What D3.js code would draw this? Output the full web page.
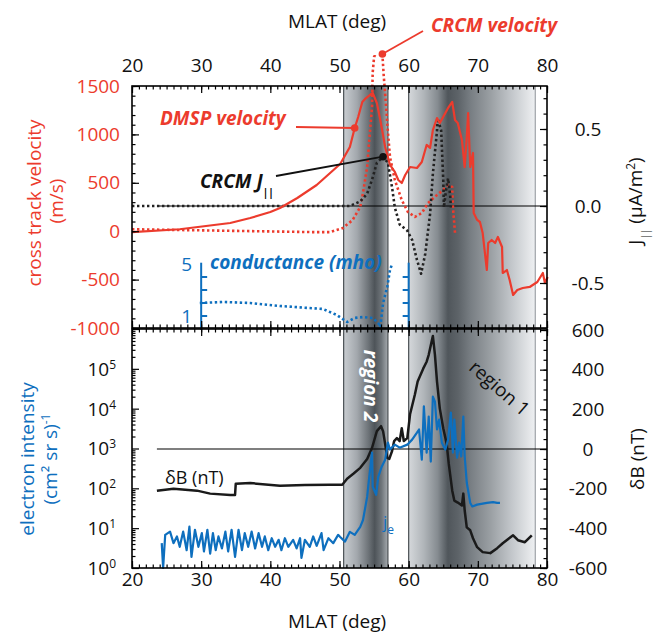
<!DOCTYPE html>
<html>
<head>
<meta charset="utf-8">
<script src="https://cdn.jsdelivr.net/npm/d3@7"></script>
<style>
  body { margin: 0; background: #fff; }
  svg text { font-family: "Open Sans", sans-serif; }
</style>
</head>
<body>
<svg id="chart" width="659" height="640"></svg>
<script>
// DMSP cross track velocity (m/s)
var dmspLat = [20.0, 26.9, 34.2, 37.1, 40.0, 41.4, 43.9, 46.7, 50.1, 51.5, 52.2, 52.7, 53.3, 53.7, 54.4, 54.8, 55.4, 55.9, 56.6, 57.3, 58.0, 58.5, 59.0, 59.5, 60.2, 61.2, 61.9, 62.6, 63.1, 63.5, 64.1, 64.5, 65.3, 65.7, 66.3, 66.7, 67.1, 67.7, 68.1, 68.4, 68.6, 68.9, 69.3, 69.4, 69.9, 70.3, 70.7, 71.3, 71.5, 72.0, 72.5, 72.9, 73.5, 73.6, 74.2, 74.6, 75.1, 75.7, 76.5, 77.5, 78.6, 79.4, 79.7, 80.1];
var dmspVel = [-10, 20, 85, 136, 198, 240, 343, 477, 694, 870, 1066, 1180, 1335, 1366, 1407, 1428, 1324, 1149, 870, 684, 612, 529, 498, 581, 663, 653, 715, 891, 860, 1045, 1169, 1118, 1221, 1273, 1335, 1149, 1118, 942, 663, 973, 1221, 663, 808, 188, 116, 95, -19, -401, -122, -91, -122, -60, -163, -432, -401, -504, -659, -607, -587, -576, -525, -432, -535, -473];

// CRCM velocity (m/s)
var crcmLat = [20.0, 46.7, 48.6, 50.5, 51.9, 53.0, 53.4, 54.0, 54.3, 54.7, 54.8, 55.0, 55.6, 56.2, 56.4, 56.6, 56.9, 57.3, 58.0, 59.0, 59.9, 60.9, 61.9, 62.8, 64.1, 65.0, 65.7, 66.3, 66.4, 66.7];
var crcmVel = [20, -10, -10, 33, 116, 250, 395, 663, 942, 1283, 1640, 1800, 1880, 1830, 1600, 1420, 1118, 767, 529, 322, 198, 147, 188, 291, 374, 426, 477, 457, 250, -19];

// CRCM J|| (uA/m^2)
var jLat = [20.0, 48.6, 51.5, 53.0, 54.0, 54.7, 55.4, 56.3, 57.0, 57.6, 58.0, 58.7, 59.8, 60.5, 61.2, 61.8, 62.4, 63.1, 63.5, 64.1, 64.2, 64.7, 65.0, 65.1, 65.4, 65.7, 66.0, 66.1];
var jVal = [0, 0, 0, 0.03, 0.08, 0.17, 0.28, 0.32, 0.28, 0.12, -0.01, -0.12, -0.16, -0.22, -0.35, -0.44, -0.31, -0.05, 0.21, 0.49, 0.57, 0.49, 0.17, -0.01, 0.10, 0.18, 0.07, -0.01];

// conductance (mho)
var condLat = [29.8, 33.2, 37.1, 41.4, 47.6, 49.6, 51.1, 52.2, 53.4, 54.8, 55.6, 55.9, 56.3, 56.9, 57.3, 57.6];
var condVal = [2.0, 2.08, 2.0, 1.77, 1.54, 1.08, 0.54, 0.85, 0.92, 0.85, 0.46, 0.15, 2.0, 3.23, 4.54, 5.0];

// electron intensity (cm^2 sr s)^-1
var eLat = [24.3, 24.5, 24.8, 25.5, 26.0, 26.5, 26.9, 27.4, 27.9, 28.3, 28.6, 29.1, 29.6, 30.1, 30.4, 30.9, 31.3, 31.7, 32.1, 32.5, 33.0, 33.5, 33.9, 34.4, 34.9, 35.4, 35.9, 36.3, 36.8, 37.3, 37.8, 38.3, 38.8, 39.2, 39.7, 40.2, 40.7, 41.2, 41.6, 42.1, 42.6, 43.3, 43.8, 44.3, 44.5, 45.0, 45.7, 46.2, 46.7, 47.4, 47.7, 48.4, 49.1, 49.8, 50.1, 50.8, 51.5, 52.2, 53.0, 53.4, 54.0, 54.3, 54.7, 54.8, 55.3, 55.6, 56.1, 56.6, 57.0, 57.3, 58.0, 58.7, 59.8, 60.5, 61.2, 61.5, 61.9, 62.2, 62.6, 62.9, 63.2, 63.5, 63.8, 64.1, 64.4, 64.8, 65.3, 65.7, 66.1, 66.4, 66.6, 67.0, 67.3, 67.6, 67.9, 68.1, 68.4, 68.9, 69.2, 69.9, 71.3, 72.2, 72.8, 73.2];
var eFlux = [4.2, 1.0, 6.8, 8.2, 4.2, 6.2, 3.4, 8.2, 2.8, 11, 1.9, 9.1, 3.4, 7.5, 2.6, 9.1, 2.3, 7.5, 2.8, 6.2, 3.1, 8.2, 2.6, 9.1, 1.9, 9.1, 2.8, 7.5, 3.4, 8.2, 3.1, 7.5, 3.4, 6.2, 2.8, 5.6, 3.4, 5.1, 2.8, 5.6, 3.4, 5.1, 3.1, 5.6, 1.8, 5.1, 3.4, 6.2, 3.6, 7.5, 2.8, 5.6, 4.2, 6.8, 6.0, 4.6, 8.1, 6.8, 10.8, 16, 61, 195, 790, 110, 69, 195, 350, 525, 1400, 940, 1250, 1050, 1250, 1670, 2500, 3000, 525, 11400, 790, 6300, 470, 20000, 15000, 3000, 5300, 1400, 940, 1670, 8000, 790, 5300, 590, 1400, 630, 6300, 630, 138, 43, 35, 39, 43, 45, 43, 43];

// deltaB (nT)
var dbLat = [23.6, 26.0, 29.4, 31.3, 34.2, 34.9, 35.0, 37.1, 41.4, 45.0, 48.6, 50.4, 51.1, 52.0, 53.0, 54.0, 54.7, 55.4, 56.0, 56.3, 56.6, 56.9, 57.2, 57.6, 57.9, 58.3, 58.7, 59.0, 59.3, 59.8, 60.2, 60.9, 61.3, 62.1, 62.6, 62.9, 63.4, 63.5, 63.8, 64.1, 64.5, 65.0, 65.5, 65.8, 66.3, 66.6, 67.1, 67.7, 67.9, 68.1, 68.4, 68.9, 69.3, 69.9, 70.7, 71.8, 72.8, 73.6, 75.1, 75.8, 76.8, 77.8];
var dbVal = [-210, -200, -210, -225, -232, -232, -175, -172, -185, -182, -180, -180, -150, -125, -95, -50, 5, 90, 115, 90, 25, -45, -50, -10, 40, 55, 40, 105, 40, 55, 175, 275, 340, 405, 440, 475, 555, 570, 475, 340, 205, 105, 25, -75, -210, -260, -270, -285, -225, -310, -395, -410, -450, -495, -520, -525, -500, -475, -435, -460, -470, -435];

// shaded regions (MLAT)
var region2 = [50.6, 57.0];
var region1 = [60.0, 78.3];

var xTicks = [20, 30, 40, 50, 60, 70, 80];
var velTicks = [-1000, -500, 0, 500, 1000, 1500];
var jTicks = [-0.5, 0, 0.5];
var fluxTicks = [1, 10, 100, 1000, 10000, 100000];
var dbTicks = [-600, -400, -200, 0, 200, 400, 600];

var red = "#ec3b2d";
var blue = "#0e6fbe";
var tickFont = 19;

var svg = d3.select("#chart");

//Scales
var x = d3.scaleLinear().domain([20, 80]).range([132, 547]);
var yVel = d3.scaleLinear().domain([-1000, 1500]).range([328, 86]);
var yJ = d3.scaleLinear().domain([-0.5, 0.5]).range([283, 129]);
var yC = d3.scaleLinear().domain([1, 5]).range([316, 264]);
var yFlux = d3.scaleLog().domain([1, 1e6]).range([568, 329]);
var yDB = d3.scaleLinear().domain([-600, 600]).range([568, 330]);

var top0 = 86, bot1 = 568;

//Gradients for the shaded regions
var defs = svg.append("defs");
function grad(id, stops) {
    var g = defs.append("linearGradient").attr("id", id)
        .attr("x1", 0).attr("x2", 1).attr("y1", 0).attr("y2", 0);
    stops.forEach(function(s) {
        g.append("stop").attr("offset", s[0]).attr("stop-color", s[1]);
    });
}
grad("g2", [[0, "#c9cdd1"], [0.3, "#a3a8ad"], [0.55, "#6f757a"], [0.7, "#4e5459"], [0.85, "#6d7378"], [1, "#a5aaae"]]);
grad("g1", [[0, "#d5d8db"], [0.12, "#b0b5b9"], [0.23, "#858b90"], [0.31, "#50565b"], [0.39, "#5d6368"], [0.49, "#787e83"], [0.65, "#9ba0a4"], [0.81, "#c2c6ca"], [0.97, "#e8eaec"], [1, "#eef0f2"]]);

//The model velocity is cut just above the top axis
defs.append("clipPath").attr("id", "crcmClip")
    .append("rect").attr("x", 0).attr("y", 55).attr("width", 659).attr("height", 585);

svg.append("rect").attr("x", x(region2[0])).attr("y", top0)
    .attr("width", x(region2[1]) - x(region2[0])).attr("height", bot1 - top0)
    .attr("fill", "url(#g2)");
svg.append("rect").attr("x", x(region1[0])).attr("y", top0)
    .attr("width", x(region1[1]) - x(region1[0])).attr("height", bot1 - top0)
    .attr("fill", "url(#g1)");

//Region boundary lines
[region2[0], region2[1], region1[0]].forEach(function(v) {
    svg.append("line").attr("x1", x(v)).attr("x2", x(v)).attr("y1", top0).attr("y2", bot1)
        .attr("stroke", "#4a4f53").attr("stroke-width", 1.2);
});
svg.append("line").attr("x1", x(region1[1])).attr("x2", x(region1[1])).attr("y1", top0).attr("y2", bot1)
    .attr("stroke", "#8c9297").attr("stroke-width", 1);

//Zero lines
svg.append("line").attr("x1", x(23.6)).attr("x2", x(80)).attr("y1", yJ(0)).attr("y2", yJ(0))
    .attr("stroke", "#000").attr("stroke-width", 1.2);
svg.append("line").attr("x1", x(23.6)).attr("x2", x(80)).attr("y1", yDB(0)).attr("y2", yDB(0))
    .attr("stroke", "#000").attr("stroke-width", 1.2);

//Conductance inset axes
function insetAxis(xv, dir) {
    svg.append("line").attr("x1", x(xv)).attr("x2", x(xv)).attr("y1", yC(5.1)).attr("y2", 330)
        .attr("stroke", blue).attr("stroke-width", 2);
    [1, 2, 3, 4].forEach(function(v) {
        svg.append("line").attr("x1", x(xv)).attr("x2", x(xv) + dir * 6)
            .attr("y1", yC(v)).attr("y2", yC(v))
            .attr("stroke", blue).attr("stroke-width", 2);
    });
}
insetAxis(30, 1);
insetAxis(60, -1);
[5, 1].forEach(function(v) {
    svg.append("text").attr("x", x(30) - 9).attr("y", yC(v)).attr("dy", "0.36em")
        .attr("text-anchor", "end").attr("font-size", tickFont).attr("fill", blue).text(v);
});

//Line helper
function path(lat, val, ys, color, width, dash) {
    var line = d3.line().x(function(d) { return x(d[0]); }).y(function(d) { return ys(d[1]); });
    var p = svg.append("path").datum(d3.zip(lat, val))
        .attr("d", line).attr("fill", "none")
        .attr("stroke", color).attr("stroke-width", width)
        .attr("stroke-linejoin", "round");
    if (dash) p.attr("stroke-dasharray", dash);
    return p;
}

path(condLat, condVal, yC, blue, 2.6, "2.4,2.6");
path(crcmLat, crcmVel, yVel, red, 2.6, "2.4,2.6").attr("clip-path", "url(#crcmClip)");
path(jLat, jVal, yJ, "#222", 2.6, "2.4,2.6");
path(dmspLat, dmspVel, yVel, red, 2.2);
path(dbLat, dbVal, yDB, "#1a1a1a", 2.5);
path(eLat, eFlux, yFlux, blue, 2.2);

//Axes
function styleAxis(g, color) {
    g.select(".domain").remove();
    g.selectAll(".tick line").attr("stroke", "#000").attr("stroke-width", 1.2);
    g.selectAll(".tick text").attr("font-size", tickFont).attr("fill", color || "#111")
        .attr("font-family", "Open Sans, sans-serif");
}
function addAxis(axis, tx, ty, color) {
    var g = svg.append("g").attr("transform", "translate(" + tx + "," + ty + ")").call(axis);
    styleAxis(g, color);
    return g;
}
var xMinor = d3.range(20, 81, 1);

//Top MLAT axis
addAxis(d3.axisTop(x).tickValues(xMinor).tickSize(-3.5).tickFormat(""), 0, 86);
addAxis(d3.axisTop(x).tickValues(xTicks).tickSize(-7).tickPadding(14).tickFormat(d3.format("d")), 0, 86);
//Shared border between panels
addAxis(d3.axisBottom(x).tickValues(xMinor).tickSize(-3.5).tickFormat(""), 0, 328);
addAxis(d3.axisBottom(x).tickValues(xTicks).tickSize(-7).tickFormat(""), 0, 328);
addAxis(d3.axisTop(x).tickValues(xMinor).tickSize(-3.5).tickFormat(""), 0, 329);
addAxis(d3.axisTop(x).tickValues(xTicks).tickSize(-7).tickFormat(""), 0, 329);
//Bottom MLAT axis
addAxis(d3.axisBottom(x).tickValues(xMinor).tickSize(-3.5).tickFormat(""), 0, 568);
addAxis(d3.axisBottom(x).tickValues(xTicks).tickSize(-7).tickPadding(4).tickFormat(d3.format("d")), 0, 568);

//Velocity axis
addAxis(d3.axisLeft(yVel).tickValues(d3.range(-1000, 1501, 100)).tickSize(-3.5).tickFormat(""), 132, 0);
addAxis(d3.axisLeft(yVel).tickValues(velTicks).tickSize(-7).tickPadding(12)
    .tickFormat(function(d) { return String(d); }), 132, 0, red);

//J axis
var jMinor = d3.range(-7, 8).map(function(k) { return k / 10; });
addAxis(d3.axisRight(yJ).tickValues(jMinor).tickSize(-3.5).tickFormat(""), 547, 0);
var gJ = addAxis(d3.axisRight(yJ).tickValues(jTicks).tickSize(-7)
    .tickFormat(function(d) { return d.toFixed(1); }), 547, 0);
gJ.selectAll(".tick text").attr("x", 41).attr("text-anchor", "middle");

//Electron intensity axis (log)
var fluxMinor = [];
for (var e = 0; e < 6; e++) for (var m = 2; m < 10; m++) fluxMinor.push(m * Math.pow(10, e));
addAxis(d3.axisLeft(yFlux).tickValues(fluxMinor).tickSize(-3.5).tickFormat(""), 132, 0);
addAxis(d3.axisLeft(yFlux).tickValues(fluxTicks.concat([1e6])).tickSize(-7).tickFormat(""), 132, 0);
fluxTicks.forEach(function(v) {
    var t = svg.append("text").attr("x", 116).attr("y", yFlux(v)).attr("dy", "0.36em")
        .attr("text-anchor", "end").attr("font-size", tickFont).attr("fill", "#111");
    t.append("tspan").text("10");
    t.append("tspan").attr("dy", -7).attr("font-size", 12).text(Math.round(Math.log10(v)));
});

//deltaB axis
addAxis(d3.axisRight(yDB).tickValues(d3.range(-600, 601, 50)).tickSize(-3.5).tickFormat(""), 547, 0);
var gB = addAxis(d3.axisRight(yDB).tickValues(dbTicks).tickSize(-7)
    .tickFormat(function(d) { return String(d); }), 547, 0);
gB.selectAll(".tick text").attr("x", 41).attr("text-anchor", "middle");

//Frames
svg.append("rect").attr("x", 132).attr("y", 86).attr("width", 415).attr("height", 242)
    .attr("fill", "none").attr("stroke", "#000").attr("stroke-width", 1.6);
svg.append("rect").attr("x", 132).attr("y", 329).attr("width", 415).attr("height", 239)
    .attr("fill", "none").attr("stroke", "#000").attr("stroke-width", 1.6);

//Axis titles
function label(txt, tx, ty, rot, color, size) {
    return svg.append("text").attr("transform", "translate(" + tx + "," + ty + ") rotate(" + rot + ")")
        .attr("text-anchor", "middle").attr("font-size", size || 19).attr("fill", color).text(txt);
}
label("MLAT (deg)", 337, 28, 0, "#111");
label("MLAT (deg)", 337, 628, 0, "#111");
label("cross track velocity", 41, 203, -90, red);
label("(m/s)", 63, 201, -90, red);
label("electron intensity", 34, 459, -90, blue);
var lab = label("(cm\u00b2 sr s)", 57, 459, -90, blue);
lab.append("tspan").attr("dy", -7).attr("font-size", 12).text("-1");

var jl = svg.append("text").attr("transform", "translate(642,201) rotate(-90)")
    .attr("text-anchor", "middle").attr("font-size", 19).attr("fill", "#111");
jl.append("tspan").text("J");
jl.append("tspan").attr("dy", 7).attr("font-size", 10).text("||");
jl.append("tspan").attr("dy", -7).text(" (\u03bcA/m");
jl.append("tspan").attr("dy", -7).attr("font-size", 12).text("2");
jl.append("tspan").attr("dy", 7).text(")");
label("\u03b4B (nT)", 644, 459, -90, "#111");

//Annotations
function bi(txt, tx, ty, color) {
    return svg.append("text").attr("x", tx).attr("y", ty)
        .attr("font-size", 19).attr("font-weight", "bold").attr("font-style", "italic")
        .attr("fill", color).text(txt);
}
function pointer(x1, y1, x2, y2, color) {
    svg.append("line").attr("x1", x1).attr("y1", y1).attr("x2", x2).attr("y2", y2)
        .attr("stroke", color).attr("stroke-width", 1.8);
    svg.append("circle").attr("cx", x2).attr("cy", y2).attr("r", 3.8).attr("fill", color);
}

bi("CRCM velocity", 431, 32, red);
pointer(423, 31, x(56.2), yVel(1830), red);

bi("DMSP velocity", 160, 125, red);
pointer(296, 127, x(52.2), yVel(1066), red);

var cj = bi("CRCM J", 200, 188, "#111");
cj.append("tspan").attr("dy", 8).attr("font-size", 10).attr("font-style", "normal")
    .attr("fill", "#000").text("||");
pointer(276, 176, x(56.3), yJ(0.32), "#111");

bi("conductance (mho)", 210, 269, blue);

svg.append("text").attr("transform", "translate(364,386) rotate(90)")
    .attr("text-anchor", "middle").attr("font-size", 19).attr("font-weight", "bold")
    .attr("font-style", "italic").attr("fill", "#fff").text("region 2");
svg.append("text").attr("transform", "translate(495,393) rotate(41)")
    .attr("text-anchor", "middle").attr("font-size", 19).attr("fill", "#111").text("region 1");

svg.append("text").attr("x", 165).attr("y", 484).attr("font-size", 18).attr("fill", "#111").text("\u03b4B (nT)");

var je = svg.append("text").attr("x", 383).attr("y", 528).attr("font-size", 17).attr("fill", blue);
je.append("tspan").text("j");
je.append("tspan").attr("dy", 6).attr("font-size", 12).text("e");
</script>
</body>
</html>
